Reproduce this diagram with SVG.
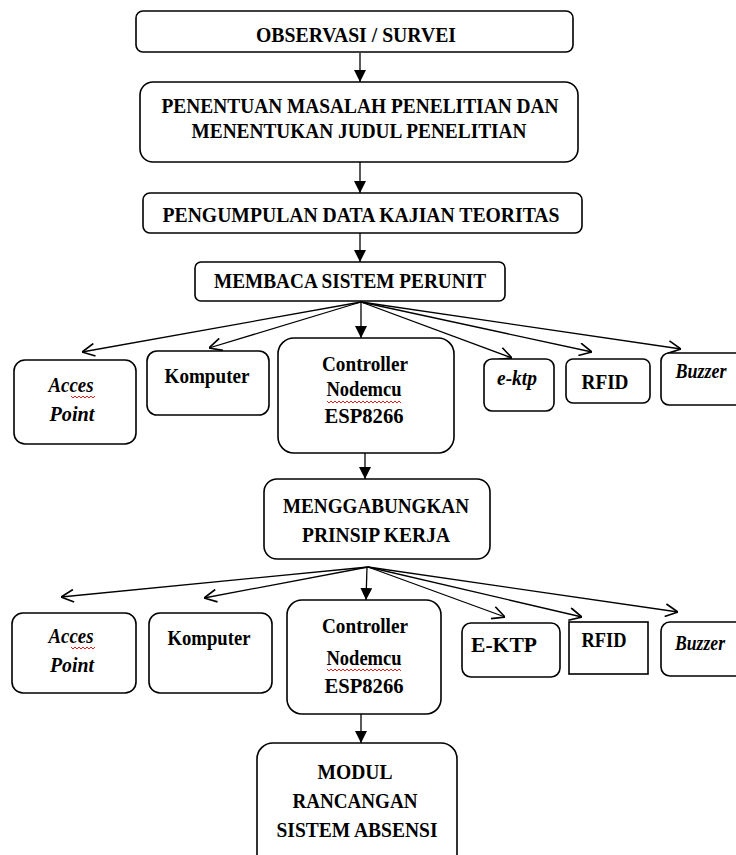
<svg xmlns="http://www.w3.org/2000/svg" width="736" height="855" viewBox="0 0 736 855">
<style>
.box{fill:#fff;stroke:#000;stroke-width:1.6}
.t{font-family:"Liberation Serif","Times New Roman",serif;font-weight:bold;font-size:22px;fill:#000;text-anchor:middle}
.i{font-style:italic}
.ln{stroke:#000;stroke-width:1.3;fill:none}
.sq{stroke:#e02020;stroke-width:1;fill:none}
</style>
<defs>
<marker id="fa" markerUnits="userSpaceOnUse" markerWidth="12" markerHeight="12" refX="10" refY="5" orient="auto" viewBox="0 0 10 10">
<path d="M0,0 L10,5 L0,10 Z" fill="#000"/>
</marker>
<marker id="oa" markerUnits="userSpaceOnUse" markerWidth="14" markerHeight="14" refX="10" refY="5" orient="auto" viewBox="0 0 10 10">
<path d="M1,0.5 L10,5 L1,9.5" fill="none" stroke="#000" stroke-width="1.2"/>
</marker>
</defs>
<rect width="736" height="855" fill="#fff"/>
<g id="connectors">
<line class="ln" x1="360" y1="53" x2="360" y2="82" marker-end="url(#fa)"/>
<line class="ln" x1="360" y1="162" x2="360" y2="193" marker-end="url(#fa)"/>
<line class="ln" x1="360" y1="233" x2="360" y2="262" marker-end="url(#fa)"/>
<line class="ln" x1="361" y1="301" x2="361" y2="338" marker-end="url(#fa)"/>
<line class="ln" x1="361" y1="302" x2="82" y2="352" marker-end="url(#oa)"/>
<line class="ln" x1="361" y1="302" x2="209" y2="348" marker-end="url(#oa)"/>
<line class="ln" x1="361" y1="302" x2="512" y2="358" marker-end="url(#oa)"/>
<line class="ln" x1="361" y1="302" x2="592" y2="352" marker-end="url(#oa)"/>
<line class="ln" x1="361" y1="302" x2="681" y2="349" marker-end="url(#oa)"/>
<line class="ln" x1="365" y1="453" x2="365" y2="479" marker-end="url(#fa)"/>
<line class="ln" x1="367" y1="567" x2="366" y2="600" marker-end="url(#fa)"/>
<line class="ln" x1="368" y1="567" x2="61" y2="597" marker-end="url(#oa)"/>
<line class="ln" x1="368" y1="567" x2="204" y2="598" marker-end="url(#oa)"/>
<line class="ln" x1="368" y1="567" x2="505" y2="617" marker-end="url(#oa)"/>
<line class="ln" x1="368" y1="567" x2="582" y2="617" marker-end="url(#oa)"/>
<line class="ln" x1="368" y1="567" x2="678" y2="612" marker-end="url(#oa)"/>
<line class="ln" x1="361" y1="714" x2="361" y2="743" marker-end="url(#fa)"/>
</g>
<g id="observasi">
<rect class="box" x="136" y="11" width="437" height="41" rx="7"/>
<text class="t" x="356" y="42" textLength="200" lengthAdjust="spacingAndGlyphs">OBSERVASI / SURVEI</text>
</g>
<g id="penentuan">
<rect class="box" x="140" y="82" width="438" height="80" rx="13"/>
<text class="t" x="360" y="113" textLength="397" lengthAdjust="spacingAndGlyphs">PENENTUAN MASALAH PENELITIAN  DAN</text>
<text class="t" x="359" y="138" textLength="335" lengthAdjust="spacingAndGlyphs">MENENTUKAN  JUDUL PENELITIAN</text>
</g>
<g id="pengumpulan">
<rect class="box" x="143" y="193" width="439" height="40" rx="7"/>
<text class="t" x="361" y="222" textLength="397" lengthAdjust="spacingAndGlyphs">PENGUMPULAN DATA KAJIAN TEORITAS</text>
</g>
<g id="membaca">
<rect class="box" x="195" y="262" width="310" height="39" rx="6"/>
<text class="t" x="350" y="288" textLength="272" lengthAdjust="spacingAndGlyphs">MEMBACA SISTEM PERUNIT</text>
</g>
<g id="acces1">
<rect class="box" x="14" y="360" width="122" height="84" rx="11"/>
<text class="t i" x="71" y="392" textLength="45" lengthAdjust="spacingAndGlyphs">Acces</text>
<path class="sq" d="M71,396 l2,2 l2,-2 l2,2 l2,-2 l2,2 l2,-2 l2,2 l2,-2 l2,2 l2,-2 l2,2 l2,-2"/>
<text class="t i" x="72" y="421" textLength="45" lengthAdjust="spacingAndGlyphs">Point</text>
</g>
<g id="komputer1">
<rect class="box" x="147" y="351" width="122" height="64" rx="10"/>
<text class="t" x="207" y="383" textLength="85" lengthAdjust="spacingAndGlyphs">Komputer</text>
</g>
<g id="controller1">
<rect class="box" x="278" y="338" width="176" height="115" rx="16"/>
<text class="t" x="365" y="371" textLength="86" lengthAdjust="spacingAndGlyphs">Controller</text>
<text class="t" x="364" y="396" textLength="75" lengthAdjust="spacingAndGlyphs">Nodemcu</text>
<path class="sq" d="M327,401 l2,2 l2,-2 l2,2 l2,-2 l2,2 l2,-2 l2,2 l2,-2 l2,2 l2,-2 l2,2 l2,-2 l2,2 l2,-2 l2,2 l2,-2 l2,2 l2,-2 l2,2 l2,-2 l2,2 l2,-2 l2,2 l2,-2 l2,2 l2,-2 l2,2 l2,-2 l2,2 l2,-2 l2,2 l2,-2 l2,2 l2,-2 l2,2 l2,-2 l2,2"/>
<text class="t" x="364" y="423" textLength="79" lengthAdjust="spacingAndGlyphs">ESP8266</text>
</g>
<g id="ektp1">
<rect class="box" x="484" y="359" width="70" height="52" rx="8"/>
<text class="t i" x="517" y="385" textLength="40" lengthAdjust="spacingAndGlyphs">e-ktp</text>
</g>
<g id="rfid1">
<rect class="box" x="566" y="359" width="84" height="44" rx="7"/>
<text class="t" x="605" y="389" textLength="47" lengthAdjust="spacingAndGlyphs">RFID</text>
</g>
<g id="buzzer1">
<rect class="box" x="661" y="353" width="100" height="52" rx="8"/>
<text class="t i" x="701" y="378" textLength="51" lengthAdjust="spacingAndGlyphs">Buzzer</text>
</g>
<g id="menggabungkan">
<rect class="box" x="264" y="479" width="226" height="80" rx="13"/>
<text class="t" x="376" y="513" textLength="186" lengthAdjust="spacingAndGlyphs">MENGGABUNGKAN</text>
<text class="t" x="376" y="542" textLength="148" lengthAdjust="spacingAndGlyphs">PRINSIP KERJA</text>
</g>
<g id="acces2">
<rect class="box" x="12" y="613" width="124" height="80" rx="11"/>
<text class="t i" x="71" y="643" textLength="45" lengthAdjust="spacingAndGlyphs">Acces</text>
<path class="sq" d="M71,647 l2,2 l2,-2 l2,2 l2,-2 l2,2 l2,-2 l2,2 l2,-2 l2,2 l2,-2 l2,2 l2,-2"/>
<text class="t i" x="72" y="672" textLength="44" lengthAdjust="spacingAndGlyphs">Point</text>
</g>
<g id="komputer2">
<rect class="box" x="149" y="613" width="123" height="80" rx="11"/>
<text class="t" x="209" y="645" textLength="83" lengthAdjust="spacingAndGlyphs">Komputer</text>
</g>
<g id="controller2">
<rect class="box" x="287" y="600" width="154" height="114" rx="15"/>
<text class="t" x="365" y="633" textLength="86" lengthAdjust="spacingAndGlyphs">Controller</text>
<text class="t" x="364" y="665" textLength="75" lengthAdjust="spacingAndGlyphs">Nodemcu</text>
<path class="sq" d="M327,669 l2,2 l2,-2 l2,2 l2,-2 l2,2 l2,-2 l2,2 l2,-2 l2,2 l2,-2 l2,2 l2,-2 l2,2 l2,-2 l2,2 l2,-2 l2,2 l2,-2 l2,2 l2,-2 l2,2 l2,-2 l2,2 l2,-2 l2,2 l2,-2 l2,2 l2,-2 l2,2 l2,-2 l2,2 l2,-2 l2,2 l2,-2 l2,2 l2,-2 l2,2"/>
<text class="t" x="364" y="693" textLength="79" lengthAdjust="spacingAndGlyphs">ESP8266</text>
</g>
<g id="ektp2">
<rect class="box" x="462" y="623" width="98" height="54" rx="9"/>
<text class="t" x="504" y="652" textLength="66" lengthAdjust="spacingAndGlyphs">E-KTP</text>
</g>
<g id="rfid2">
<rect class="box" x="569" y="622" width="79" height="52"/>
<text class="t" x="604" y="647" textLength="45" lengthAdjust="spacingAndGlyphs">RFID</text>
</g>
<g id="buzzer2">
<rect class="box" x="661" y="622" width="100" height="54" rx="9"/>
<text class="t i" x="700" y="650" textLength="50" lengthAdjust="spacingAndGlyphs">Buzzer</text>
</g>
<g id="modul">
<rect class="box" x="257" y="743" width="200" height="130" rx="16"/>
<text class="t" x="355" y="779" textLength="75" lengthAdjust="spacingAndGlyphs">MODUL</text>
<text class="t" x="355" y="808" textLength="125" lengthAdjust="spacingAndGlyphs">RANCANGAN</text>
<text class="t" x="357" y="837" textLength="161" lengthAdjust="spacingAndGlyphs">SISTEM ABSENSI</text>
</g>
</svg>
